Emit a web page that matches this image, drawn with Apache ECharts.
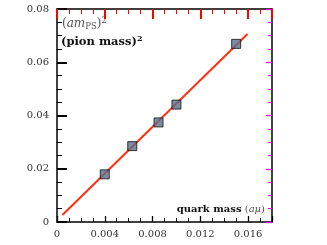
<!DOCTYPE html>
<html><head><meta charset="utf-8">
<script src="https://cdn.jsdelivr.net/npm/echarts@6/dist/echarts.min.js"></script>
<style>html,body{margin:0;padding:0;background:#fff}#c{width:327px;height:245px}</style>
</head><body><div id="c"></div>
<script>
const quarkMass = [0.004, 0.0063, 0.0085, 0.010, 0.015];
const pionMass2 = [0.0179, 0.0285, 0.0374, 0.0441, 0.0669];
const fitX = [0.00045, 0.01595];
const fitY = [0.0026, 0.0706];
const xTickValues = [0, 0.004, 0.008, 0.012, 0.016];
const yTickValues = [0, 0.02, 0.04, 0.06, 0.08];

const serif = '"DejaVu Serif","Liberation Serif",serif';
function fmt(v){ return v === 0 ? '0' : String(Number(v.toFixed(3))); }
function tick(c, len, w){ return {show:true, inside:true, length:len, lineStyle:{color:c, width:w}}; }
function minor(c, len){ return {show:true, splitNumber:4, length:len, lineStyle:{color:c, width:1}}; }
function line(){ return {show:true, onZero:false, lineStyle:{color:'#000', width:1.5}}; }

const chart = echarts.init(document.getElementById('c'));
chart.setOption({
  animation:false,
  grid:{left:57, right:55, top:9, bottom:23},
  xAxis:[
    {type:'value', min:0, max:0.018, interval:0.004, position:'bottom',
     axisLine:line(), axisTick:tick('#000', 6, 1.3), minorTick:minor('#000', 4), splitLine:{show:false},
     axisLabel:{color:'#333', fontFamily:serif, fontSize:10, margin:7, formatter:fmt,
       showMaxLabel:false}},
    {type:'value', min:0, max:0.018, interval:0.004, position:'top',
     axisLine:line(), axisTick:tick('#f00', 10, 2), minorTick:minor('#f00', 5), splitLine:{show:false},
     axisLabel:{show:false}}
  ],
  yAxis:[
    {type:'value', min:0, max:0.08, interval:0.02, position:'left',
     axisLine:line(), axisTick:tick('#000', 10, 2), minorTick:minor('#000', 5), splitLine:{show:false},
     axisLabel:{color:'#333', fontFamily:serif, fontSize:10, margin:8, formatter:fmt}},
    {type:'value', min:0, max:0.08, interval:0.02, position:'right',
     axisLine:line(), axisTick:tick('#f0f', 6, 1.3), minorTick:minor('#f0f', 4), splitLine:{show:false},
     axisLabel:{show:false}}
  ],
  series:[
    {type:'line', data:fitX.map((x,i)=>[x,fitY[i]]), symbol:'none',
     lineStyle:{color:'#ff3010', width:2}, z:2},
    {type:'scatter', data:quarkMass.map((x,i)=>[x,pionMass2[i]]), symbol:'rect', symbolSize:9,
     itemStyle:{color:'#5b6f8a', borderColor:'#111', borderWidth:1}, z:3}
  ],
  graphic:[
    {type:'text', left:62, top:16, style:{
      text:'{p|(}{i|am}{s|PS}{p|)}{sup|2}',
      rich:{
        p:{fontFamily:serif, fontSize:12, fill:'#555'},
        i:{fontFamily:serif, fontStyle:'italic', fontSize:12, fill:'#555'},
        s:{fontFamily:serif, fontSize:8.5, fill:'#555', padding:[6,0,0,0]},
        sup:{fontFamily:serif, fontSize:8.5, fill:'#555', padding:[0,0,7,0]}
      }}},
    {type:'text', left:61, top:35, style:{
      text:'{b|(pion mass)}{sup|2}',
      rich:{
        b:{fontFamily:serif, fontWeight:'bold', fontSize:11.5, fill:'#111'},
        sup:{fontFamily:serif, fontWeight:'bold', fontSize:8, fill:'#111', padding:[0,0,7,0]}
      }}},
    {type:'text', right:62, top:204, style:{
      text:'{b|quark mass}{p| (}{i|aμ}{p|)}',
      rich:{
        b:{fontFamily:serif, fontWeight:'bold', fontSize:10, fill:'#111'},
        p:{fontFamily:serif, fontSize:10, fill:'#555'},
        i:{fontFamily:serif, fontStyle:'italic', fontSize:10, fill:'#555'}
      }}}
  ]
});
</script></body></html>
